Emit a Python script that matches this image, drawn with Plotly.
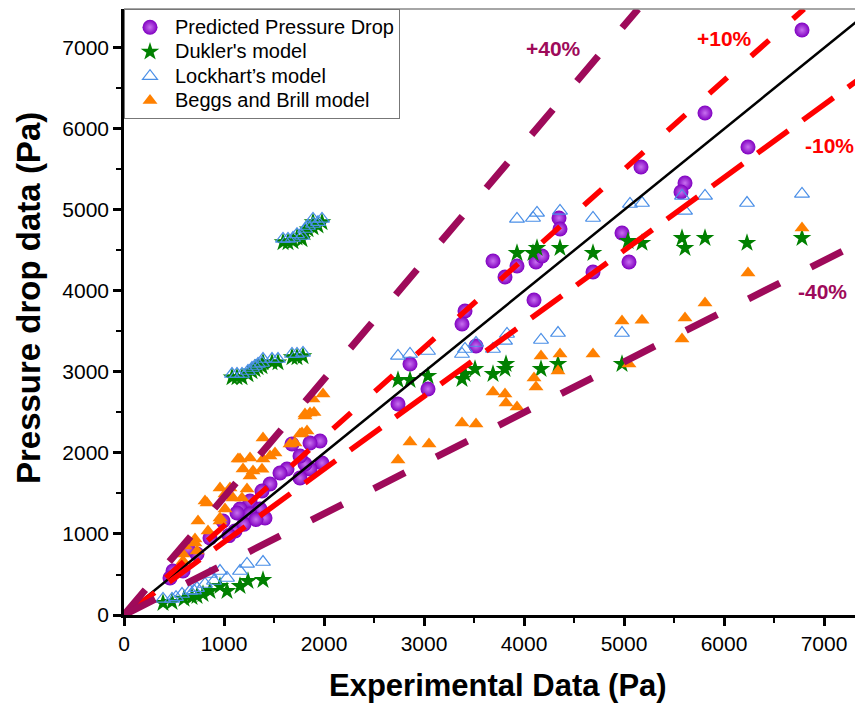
import plotly.graph_objects as go

# Predicted pressure drop (experimental x, predicted y), Pa
pred_x = [6780, 5810, 6240, 5170, 5610, 5570, 4350, 4360, 4980, 3690, 3930, 3810, 4120, 4180,
          5050, 4690, 4100, 3410, 3380, 3520, 2860, 3040, 2740, 1960, 1860, 1980, 1860, 1760,
          1810, 1760, 1680, 1630, 1560, 1460, 1380, 1260, 1360, 1160, 1260, 1410, 1130, 1110,
          990, 860, 730, 590, 490, 640, 460, 1200, 1320, 1050]
pred_y = [7222, 6198, 5778, 5531, 5333, 5222, 4901, 4765, 4716, 4370, 4309, 4173, 4358, 4432,
          4358, 4235, 3889, 3753, 3592, 3321, 3099, 2790, 2605, 2148, 2123, 1877, 1802, 1691,
          1864, 1963, 2111, 1802, 1753, 1617, 1531, 1407, 1309, 1309, 1247, 1198, 1259, 1037,
          1160, 951, 753, 543, 543, 815, 457, 1120, 1180, 980]

# Lockhart's model
lock_x = [1590, 1640, 1690, 1730, 1780, 1810, 1840, 1890, 1890, 1940, 1980,
          1080, 1130, 1180, 1240, 1280, 1310, 1340, 1380, 1390, 1480, 1540, 1680, 1730, 1790,
          390, 480, 580, 660, 730, 810, 860, 960, 1030, 1160, 1230, 1390, 520, 700, 900,
          2740, 2860, 3040, 3380, 3410, 3520, 3690, 3810, 3830, 4170, 4340, 4980,
          3930, 4090, 4130, 4360, 4690, 5060, 5180, 5580, 5610, 5810, 6230, 6780]
lock_y = [4642, 4642, 4654, 4700, 4679, 4765, 4802, 4827, 4889, 4850, 4889,
          2975, 2975, 2975, 3012, 3049, 3074, 3099, 3111, 3160, 3160, 3160, 3222, 3222, 3235,
          198, 198, 259, 296, 333, 383, 506, 543, 457, 543, 630, 654, 220, 300, 420,
          3198, 3222, 3259, 3222, 3284, 3358, 3284, 3383, 3469, 3395, 3481, 3481,
          4889, 4901, 4963, 4988, 4901, 5074, 5086, 5173, 4988, 5173, 5086, 5198]

# Dukler's model
duk_x = [1590, 1640, 1690, 1730, 1780, 1810, 1840, 1890, 1890, 1940, 1980,
         1080, 1130, 1180, 1240, 1280, 1310, 1340, 1380, 1390, 1480, 1540, 1680, 1730, 1790,
         390, 480, 600, 680, 730, 790, 860, 960, 1030, 1160, 1240, 1390,
         2740, 2860, 3040, 3380, 3410, 3510, 3690, 3810, 3820, 4170, 4340, 4980,
         3930, 4090, 4130, 4360, 4690, 5040, 5180, 5580, 5610, 5810, 6230, 6780]
duk_y = [4600, 4600, 4612, 4658, 4637, 4723, 4760, 4785, 4847, 4808, 4847,
         2933, 2933, 2933, 2970, 3007, 3032, 3057, 3069, 3118, 3118, 3118, 3180, 3180, 3193,
         148, 160, 200, 220, 235, 259, 296, 358, 296, 358, 420, 432,
         2901, 2901, 2951, 2914, 2975, 3037, 2975, 3037, 3099, 3037, 3099, 3099,
         4469, 4469, 4531, 4531, 4469, 4617, 4593, 4654, 4531, 4654, 4593, 4654]

# Beggs and Brill model
beggs_x = [6780, 6240, 5810, 5610, 5180, 4980, 5580, 4170, 4360, 4690, 5050, 4100, 4340, 4120,
           3690, 3810, 3820, 3930, 3380, 3520, 2860, 3050, 2740,
           1990, 1890, 1860, 1810, 1900, 1390, 1760, 1830, 1710, 1660, 1510, 1460, 1390, 1260,
           1160, 1190, 1290, 1380, 1260, 960, 1060, 1230, 1010, 1090, 1180, 1010, 960, 1810,
           1780, 1140, 810, 960, 740, 710, 610, 590, 1030, 830, 840, 710, 730, 590, 530]
beggs_y = [4778, 4222, 3852, 3667, 3640, 3630, 3407, 3198, 3222, 3222, 3099, 2926, 3012, 2815,
           2753, 2728, 2617, 2568, 2370, 2358, 2136, 2111, 1914,
           2728, 2667, 2494, 2481, 2500, 2185, 2235, 2272, 2123, 2111, 2000, 1963, 1926, 1938,
           1926, 1802, 1778, 1800, 1716, 1568, 1568, 1556, 1494, 1444, 1444, 1309, 1198, 2457,
           2247, 1926, 1407, 1160, 1160, 938, 852, 753, 1469, 1383, 1037, 889, 790, 667, 543]

# reference lines: label, slope, colour, dash, width
ref_lines = [
    ("y=x", 1.0, "black", "solid", 2.5),
    ("+10%", 1.1, "#FF0000", "24px,32px", 5.5),
    ("-10%", 0.9, "#FF0000", "38px,18px", 5.5),
    ("+40%", 1.455, "#9E0A5A", "33px,37px", 7),
    ("-40%", 0.625, "#9E0A5A", "35px,35px", 7),
]
label_text = ["+40%", "+10%", "-10%", "-40%"]
label_x = [4290, 6000, 7050, 6980]
label_y = [6988, 7123, 5790, 3988]
label_color = ["#9E0A5A", "#FF0000", "#FF0000", "#9E0A5A"]

X_MAX = 7390
Y_MAX = 7481
FONT = "Liberation Sans, Arial, sans-serif"


def legend_name(s):
    # bigger text than the legend font, so rows stay tight like the original
    return f'<span style="font-size:20px">{s}</span>'


fig = go.Figure()

fig.add_trace(go.Scatter(
    x=pred_x, y=pred_y, mode="markers", name=legend_name("Predicted Pressure Drop"),
    marker=dict(symbol="circle", size=15, color="#8000C0",
                gradient=dict(type="radial", color="#C870F0"),
                line=dict(width=0))
))
fig.add_trace(go.Scatter(
    x=duk_x, y=duk_y, mode="markers", name=legend_name("Dukler's model"),
    marker=dict(symbol="star", size=14, color="#008000", line=dict(width=0))
))
fig.add_trace(go.Scatter(
    x=lock_x, y=lock_y, mode="markers", name=legend_name("Lockhart\u2019s model"),
    marker=dict(symbol="triangle-up-open", size=13, color="#4A8FE7", line=dict(width=1.2))
))
fig.add_trace(go.Scatter(
    x=beggs_x, y=beggs_y, mode="markers", name=legend_name("Beggs and Brill model"),
    marker=dict(symbol="triangle-up", size=13, color="#FF8000", line=dict(width=0))
))

for name, k, col, dash, w in ref_lines:
    x_end = min(X_MAX, Y_MAX / k)
    fig.add_trace(go.Scatter(
        x=[0, x_end], y=[0, k * x_end], mode="lines", showlegend=False,
        line=dict(color=col, dash=dash, width=w), hoverinfo="skip"
    ))

for t, x, y, c in zip(label_text, label_x, label_y, label_color):
    fig.add_annotation(x=x, y=y, text=f"<b>{t}</b>", showarrow=False,
                       font=dict(family=FONT, size=21, color=c))

# axis titles placed as annotations to match the original offsets
fig.add_annotation(xref="paper", yref="paper", x=0.506, y=0, yshift=-70,
                   xanchor="center", yanchor="middle", showarrow=False,
                   text="<b>Experimental Data (Pa)</b>",
                   font=dict(family=FONT, size=31, color="black"))
fig.add_annotation(xref="paper", yref="paper", x=0, y=0.523, xshift=-96,
                   xanchor="center", yanchor="middle", showarrow=False, textangle=-90,
                   text="<b>Pressure drop data (Pa)</b>",
                   font=dict(family=FONT, size=33, color="black"))

# thin grey frame line along the top
fig.add_shape(type="line", xref="paper", yref="paper", x0=0, x1=1, y0=1, y1=1,
              line=dict(color="#888888", width=1.5))

axis_common = dict(
    showline=True, linecolor="black", linewidth=2.5, mirror=False,
    ticks="outside", ticklen=8, tickwidth=2.5, tickcolor="black",
    showgrid=False, zeroline=False,
    tickfont=dict(family=FONT, size=21, color="black"),
    minor=dict(ticks="outside", ticklen=5, tickwidth=2, tickcolor="black", dtick=500),
)

# page body adds an 8px offset, margins shifted so the plot box lands where the original is
fig.update_layout(
    width=855, height=698, autosize=False,
    margin=dict(l=116, r=0, t=1, b=91),
    plot_bgcolor="white", paper_bgcolor="white",
    font=dict(family=FONT, color="black"),
    xaxis=dict(range=[0, X_MAX], dtick=1000, tick0=0, **axis_common),
    yaxis=dict(range=[0, Y_MAX], dtick=1000, tick0=0, **axis_common),
    legend=dict(x=0, y=1, xanchor="left", yanchor="top",
                bgcolor="white", bordercolor="#777777", borderwidth=1,
                font=dict(family=FONT, size=16.5, color="black"),
                itemwidth=40, tracegroupgap=0),
)

fig.write_html("out.html")
